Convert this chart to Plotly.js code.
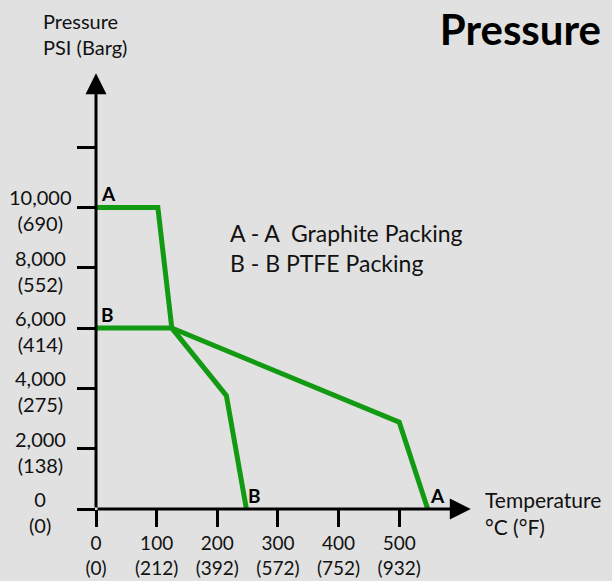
<!DOCTYPE html>
<html>
<head>
<meta charset="utf-8">
<script src="https://cdn.plot.ly/plotly-3.0.1.min.js"></script>
<style>html,body{margin:0;padding:0;background:#e1e1e1;}</style>
</head>
<body>
<div id="chart" style="width:612px;height:581px;"></div>
<script>
// Graphite packing (A - A)
const graphiteTemp = [0, 102, 125, 500, 547];
const graphitePsi  = [10000, 10000, 6000, 2880, 0];
// PTFE packing (B - B)
const ptfeTemp = [0, 125, 215, 248];
const ptfePsi  = [6000, 6000, 3760, 0];

const xTickVals = [0, 100, 200, 300, 400, 500];
const xTickC    = ['0', '100', '200', '300', '400', '500'];
const xTickF    = ['(0)', '(212)', '(392)', '(572)', '(752)', '(932)'];

const yTickVals = [0, 2000, 4000, 6000, 8000, 10000, 12000];
const yTickPsi  = ['0', '2,000', '4,000', '6,000', '8,000', '10,000', ''];
const yTickBarg = ['(0)', '(138)', '(275)', '(414)', '(552)', '(690)', ''];

const FONT = 'Lato, "Open Sans", sans-serif';
const GREEN = '#139a13';

const traces = [
  {x: graphiteTemp, y: graphitePsi, mode: 'lines', name: 'Graphite Packing',
   line: {color: GREEN, width: 5}, hoverinfo: 'skip'},
  {x: ptfeTemp, y: ptfePsi, mode: 'lines', name: 'PTFE Packing',
   line: {color: GREEN, width: 5}, hoverinfo: 'skip'}
];

const annotations = [];
// y tick labels (two centered lines)
yTickVals.forEach((v, i) => {
  if (!yTickPsi[i]) return;
  annotations.push({
    xref: 'paper', yref: 'y', x: (40 - 96) / 376, y: v,
    xanchor: 'center', yanchor: 'middle', yshift: -3,
    text: yTickPsi[i] + '<br>' + yTickBarg[i], align: 'center', showarrow: false,
    font: {family: FONT, size: 20, color: '#111'}
  });
});
// axis arrows
annotations.push({
  xref: 'x', yref: 'y', axref: 'x', ayref: 'y',
  x: 618, y: 0, ax: 0, ay: 0, text: '', showarrow: true,
  arrowhead: 2, arrowsize: 1.4, arrowwidth: 3, arrowcolor: '#000', standoff: 0
});
annotations.push({
  xref: 'x', yref: 'y', axref: 'x', ayref: 'y',
  x: 0, y: 14450, ax: 0, ay: 0, text: '', showarrow: true,
  arrowhead: 2, arrowsize: 1.4, arrowwidth: 3, arrowcolor: '#000', standoff: 0
});
// curve letters
const letters = [
  {t: 'A', x: graphiteTemp[0], y: graphitePsi[0], xs: 3},
  {t: 'B', x: ptfeTemp[0], y: ptfePsi[0], xs: 3},
  {t: 'B', x: ptfeTemp[ptfeTemp.length - 1], y: 0, xs: 0},
  {t: 'A', x: graphiteTemp[graphiteTemp.length - 1], y: 0, xs: 0}
];
letters.forEach(l => annotations.push({
  xref: 'x', yref: 'y', x: l.x, y: l.y, xanchor: 'left', yanchor: 'bottom',
  xshift: l.xs, yshift: 0, text: '<b>' + l.t + '</b>', showarrow: false,
  font: {family: FONT, size: 19, color: '#000'}
}));
// legend text
annotations.push({
  xref: 'paper', yref: 'paper', x: (228 - 96) / 376, y: (509 - 218) / 437,
  xanchor: 'left', yanchor: 'top', align: 'left', showarrow: false,
  text: 'A - A\u00a0\u00a0Graphite Packing<br>B - B PTFE Packing',
  font: {family: FONT, size: 23, color: '#111'}
});
// axis titles
annotations.push({
  xref: 'paper', yref: 'paper', x: (41 - 96) / 376, y: (509 - 9) / 437,
  xanchor: 'left', yanchor: 'top', align: 'left', showarrow: false,
  text: 'Pressure<br>PSI (Barg)', font: {family: FONT, size: 20, color: '#111'}
});
annotations.push({
  xref: 'paper', yref: 'paper', x: (483 - 96) / 376, y: (509 - 485) / 437,
  xanchor: 'left', yanchor: 'top', align: 'left', showarrow: false,
  text: 'Temperature<br>°C (°F)', font: {family: FONT, size: 21, color: '#111'}
});

const layout = {
  width: 612, height: 581,
  paper_bgcolor: '#e1e1e1', plot_bgcolor: '#e1e1e1',
  margin: {l: 96, r: 140, t: 70, b: 72, pad: 0},
  showlegend: false,
  title: {text: '<b>Pressure</b>', x: 601 / 612, xanchor: 'right', xref: 'container',
          y: 1 - 16 / 581, yanchor: 'top', yref: 'container',
          font: {family: FONT, size: 42, color: '#000'}},
  xaxis: {range: [0, 620], showgrid: false, zeroline: false, showline: false,
          tickmode: 'array', tickvals: xTickVals,
          ticktext: xTickC.map((c, i) => c + '<br>' + xTickF[i]),
          ticks: 'outside', ticklen: 17, tickwidth: 3, tickcolor: '#000',
          tickfont: {family: FONT, size: 19, color: '#111'}, fixedrange: true},
  yaxis: {range: [0, 14560], showgrid: false, zeroline: false, showline: false,
          tickmode: 'array', tickvals: yTickVals, showticklabels: false,
          ticks: 'outside', ticklen: 18, tickwidth: 3, tickcolor: '#000', fixedrange: true},
  annotations: annotations
};

Plotly.newPlot('chart', traces, layout, {displayModeBar: false, staticPlot: true});
</script>
</body>
</html>
